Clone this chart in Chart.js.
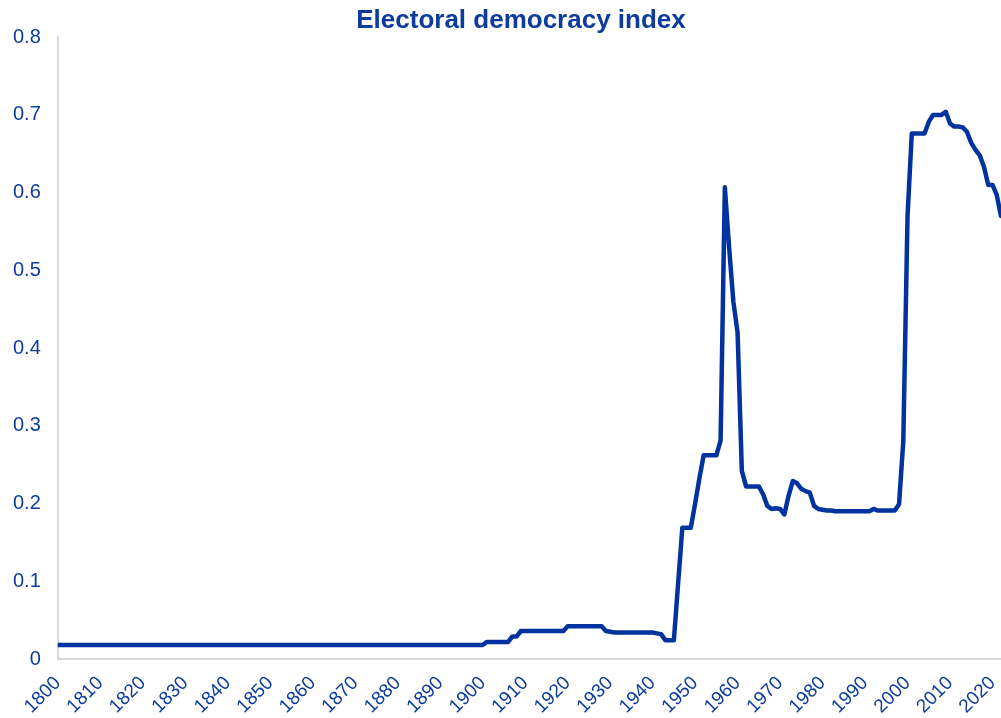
<!DOCTYPE html>
<html>
<head>
<meta charset="utf-8">
<title>Electoral democracy index</title>
<script src="https://cdn.jsdelivr.net/npm/chart.js@4.4.1/dist/chart.umd.min.js"></script>
<style>
  html, body { margin: 0; padding: 0; background: #fff; overflow: hidden; }
  #wrap { width: 1042px; height: 718px; position: relative; }
</style>
</head>
<body>
<div id="wrap"><canvas id="ediChart"></canvas></div>
<script>
// --- data ---
const firstYear = 1800;
const lastYear = 2022;
const yTicks = [0, 0.1, 0.2, 0.3, 0.4, 0.5, 0.6, 0.7, 0.8];

// one value per year, 1800..2022
const ediValues = [
  0.018, 0.018, 0.018, 0.018, 0.018, 0.018, 0.018, 0.018, 0.018, 0.018, // 1800
  0.018, 0.018, 0.018, 0.018, 0.018, 0.018, 0.018, 0.018, 0.018, 0.018, // 1810
  0.018, 0.018, 0.018, 0.018, 0.018, 0.018, 0.018, 0.018, 0.018, 0.018, // 1820
  0.018, 0.018, 0.018, 0.018, 0.018, 0.018, 0.018, 0.018, 0.018, 0.018, // 1830
  0.018, 0.018, 0.018, 0.018, 0.018, 0.018, 0.018, 0.018, 0.018, 0.018, // 1840
  0.018, 0.018, 0.018, 0.018, 0.018, 0.018, 0.018, 0.018, 0.018, 0.018, // 1850
  0.018, 0.018, 0.018, 0.018, 0.018, 0.018, 0.018, 0.018, 0.018, 0.018, // 1860
  0.018, 0.018, 0.018, 0.018, 0.018, 0.018, 0.018, 0.018, 0.018, 0.018, // 1870
  0.018, 0.018, 0.018, 0.018, 0.018, 0.018, 0.018, 0.018, 0.018, 0.018, // 1880
  0.018, 0.018, 0.018, 0.018, 0.018, 0.018, 0.018, 0.018, 0.018, 0.018, // 1890
  0.018, 0.022, 0.022, 0.022, 0.022, 0.022, 0.022, 0.029, 0.029, 0.036, // 1900
  0.036, 0.036, 0.036, 0.036, 0.036, 0.036, 0.036, 0.036, 0.036, 0.036, // 1910
  0.042, 0.042, 0.042, 0.042, 0.042, 0.042, 0.042, 0.042, 0.042, 0.036, // 1920
  0.035, 0.034, 0.034, 0.034, 0.034, 0.034, 0.034, 0.034, 0.034, 0.034, // 1930
  0.034, 0.033, 0.032, 0.024, 0.024, 0.024, 0.097, 0.169, 0.169, 0.169, // 1940
  0.200, 0.232, 0.262, 0.262, 0.262, 0.262, 0.281, 0.607, 0.530, 0.460, // 1950
  0.420, 0.242, 0.222, 0.222, 0.222, 0.222, 0.212, 0.197, 0.193, 0.194, // 1960
  0.193, 0.186, 0.210, 0.229, 0.226, 0.219, 0.216, 0.214, 0.197, 0.193, // 1970
  0.192, 0.191, 0.191, 0.190, 0.190, 0.190, 0.190, 0.190, 0.190, 0.190, // 1980
  0.190, 0.190, 0.193, 0.191, 0.191, 0.191, 0.191, 0.191, 0.199, 0.280, // 1990
  0.570, 0.676, 0.676, 0.676, 0.676, 0.691, 0.700, 0.700, 0.700, 0.704, // 2000
  0.689, 0.685, 0.685, 0.684, 0.678, 0.664, 0.655, 0.648, 0.633, 0.610, // 2010
  0.610, 0.597, 0.570                                                   // 2020
];

const years = [];
for (let y = firstYear; y <= lastYear; y++) years.push(y);

const blue = '#0033a0';
const textBlue = '#0d3b9e';
const axisGray = '#d9d9d9';
const fontFamily = "'Liberation Sans', Arial, sans-serif";
const titleCenterX = 521;

// the title sits a little right of the canvas centre in the original
const shiftTitle = {
  id: 'shiftTitle',
  afterLayout(chart) {
    const t = chart.titleBlock;
    if (!t) return;
    const dx = titleCenterX - (t.left + t.right) / 2;
    t.left += dx;
    t.right += dx;
  }
};

document.addEventListener('DOMContentLoaded', () => {
  const ctx = document.getElementById('ediChart').getContext('2d');

  new Chart(ctx, {
    type: 'line',
    data: {
      datasets: [{
        label: 'Electoral democracy index',
        data: years.map((yr, i) => ({ x: yr, y: ediValues[i] })),
        borderColor: blue,
        borderWidth: 4.5,
        borderJoinStyle: 'round',
        borderCapStyle: 'round',
        pointRadius: 0,
        tension: 0,
        fill: false
      }]
    },
    plugins: [shiftTitle],
    options: {
      responsive: true,
      maintainAspectRatio: false,
      animation: false,
      layout: {
        padding: { left: -4, right: 41, top: 0, bottom: -13 }
      },
      scales: {
        x: {
          type: 'linear',
          min: firstYear,
          max: lastYear,
          grid: { display: false, drawTicks: false },
          border: { display: true, color: axisGray, width: 2 },
          ticks: {
            stepSize: 10,
            includeBounds: false,
            autoSkip: false,
            minRotation: 45,
            maxRotation: 45,
            padding: 13,
            color: textBlue,
            font: { family: fontFamily, size: 19 },
            callback: (v) => String(v)
          }
        },
        y: {
          min: 0,
          max: 0.8,
          grid: { display: false, drawTicks: false },
          border: { display: true, color: axisGray, width: 2 },
          afterBuildTicks: (axis) => {
            axis.ticks = yTicks.map(v => ({ value: v }));
          },
          ticks: {
            padding: 17,
            color: textBlue,
            font: { family: fontFamily, size: 20 },
            callback: (v) => (v === 0 ? '0' : v.toFixed(1))
          }
        }
      },
      plugins: {
        legend: { display: false },
        tooltip: { enabled: false },
        title: {
          display: true,
          text: 'Electoral democracy index',
          color: textBlue,
          font: { family: fontFamily, size: 26, weight: 'bold' },
          padding: { top: 5, bottom: 1 }
        }
      }
    }
  });
});
</script>
</body>
</html>
